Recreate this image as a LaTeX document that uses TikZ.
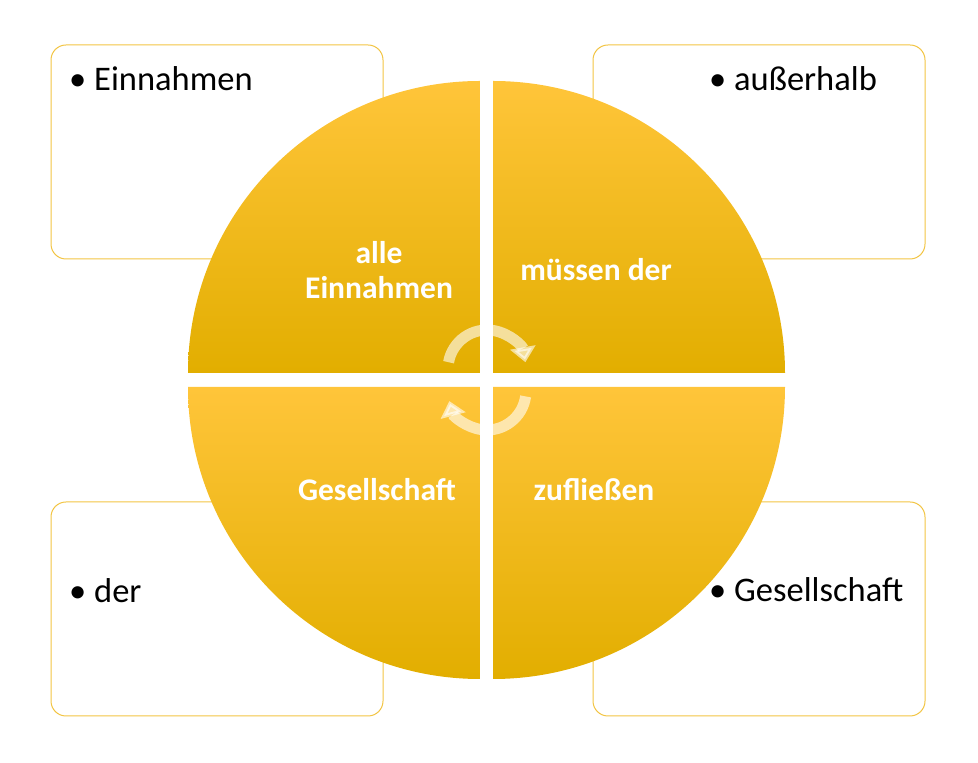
\documentclass[tikz,border=0pt]{standalone}
\usepackage{fontspec}
\setmainfont{Carlito}
\usetikzlibrary{arrows.meta}
\definecolor{qtop}{HTML}{FFC53A}
\definecolor{qmid}{HTML}{FFC000}
\definecolor{qbot}{HTML}{E2AE00}
\definecolor{rim}{HTML}{F2C443}

\begin{document}
\begin{tikzpicture}[x=1pt, y=1pt,
  note/.style={draw=rim, line width=1pt, rounded corners=15pt, minimum width=332pt, minimum height=214pt, inner sep=0pt},
  quad/.style={top color=qtop, middle color=qmid, bottom color=qbot},
  item/.style={anchor=base west, inner sep=0pt, font=\fontsize{34.5}{41}\selectfont},
  lbl/.style={text=white, align=center, inner sep=0pt, font=\bfseries\fontsize{31.5}{35}\selectfont},
  cyc/.style={draw=white, opacity=0.6, line width=11pt, -{Triangle[width=25pt,length=15pt]}}]
  \useasboundingbox (0,0) rectangle (978,763);
  % Caixas
  \node[note] (nw) at (217,611) {};
  \node[note] (ne) at (759,611) {};
  \node[note] (sw) at (217,154) {};
  \node[note] (se) at (759,154) {};
  \node[item] (tnw) at (69,672) {• Einnahmen};
  \node[item] (tne) at (709,672) {• außerhalb};
  \node[item] (tsw) at (69,160) {• der};
  \node[item] (tse) at (709,161) {• Gesellschaft};
  % Quadrantes
  \shade[quad] (480,390) -- (188,390) arc[start angle=180, end angle=90, radius=292] -- cycle;
  \shade[quad] (493,390) -- (493,682) arc[start angle=90, end angle=0, radius=292] -- cycle;
  \shade[quad] (480,376) -- (480,84) arc[start angle=270, end angle=180, radius=292] -- cycle;
  \shade[quad] (493,376) -- (785,376) arc[start angle=0, end angle=-90, radius=292] -- cycle;
  \node[lbl] (qnw) at (379,493) {alle\\Einnahmen};
  \node[lbl] (qne) at (596,493) {müssen der};
  \node[lbl] (qsw) at (377,273) {Gesellschaft};
  \node[lbl] (qse) at (594,273) {zufließen};
  % Setas
  \draw[cyc] (487,394) ++(170:39) arc[start angle=170, end angle=10, radius=39];
  \draw[cyc] (487,372) ++(-8:39) arc[start angle=-8, end angle=-165, radius=39];
\end{tikzpicture}
\end{document}
